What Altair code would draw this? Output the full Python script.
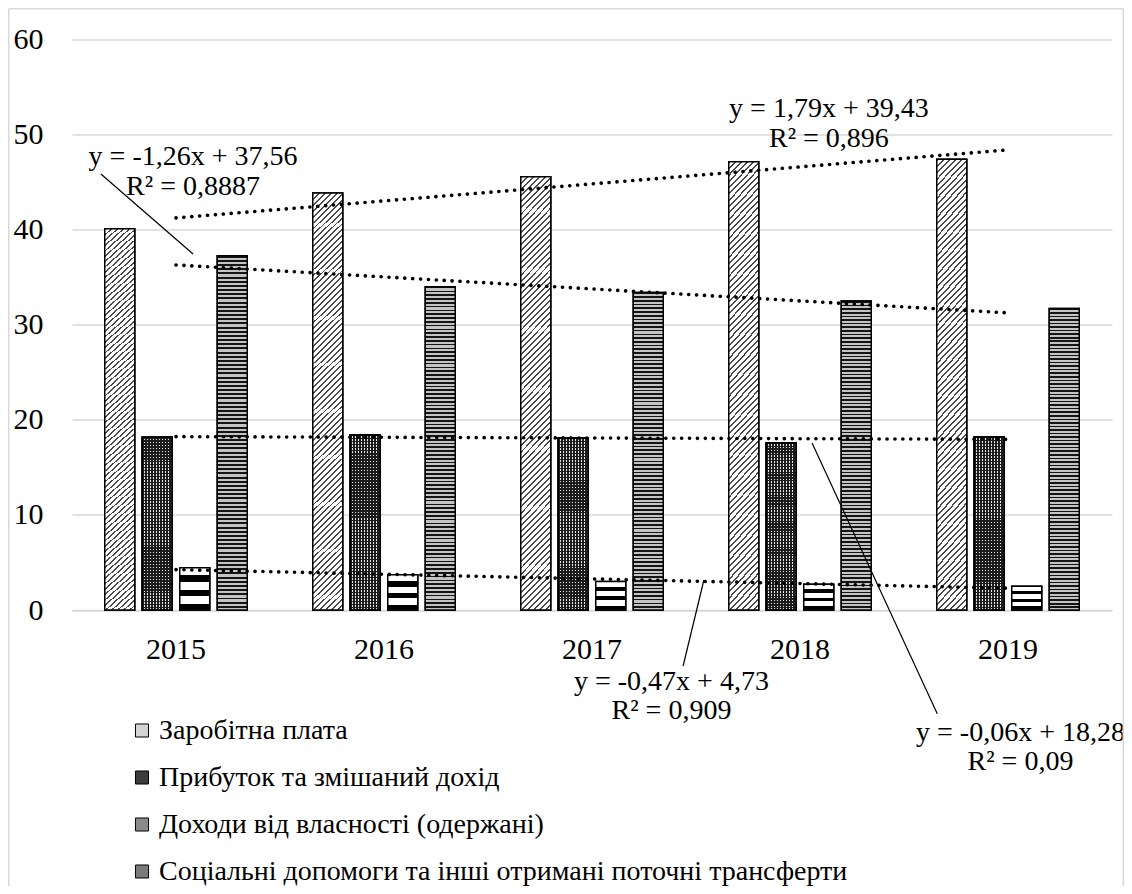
import altair as alt
import pandas as pd

# ---------------- data ----------------
years = ["2015", "2016", "2017", "2018", "2019"]
series_names = [
    "Заробітна плата",
    "Прибуток та змішаний дохід",
    "Доходи від власності (одержані)",
    "Соціальні допомоги та інші отримані поточні трансферти",
]
wage = [40.1, 43.86, 45.57, 47.15, 47.4]
profit = [18.16, 18.4, 18.09, 17.6, 18.2]
property_inc = [4.45, 3.7, 3.0, 2.7, 2.5]
social = [37.25, 34.0, 33.4, 32.5, 31.7]

# trend-line equation labels (text), anchored in data units
eq_text = ["y = -1,26x + 37,56", "R² = 0,8887",
           "y = 1,79x + 39,43", "R² = 0,896",
           "y = -0,47x + 4,73", "R² = 0,909",
           "y = -0,06x + 18,28", "R² = 0,09"]
eq_x = [1.082, 1.082, 4.139, 4.139, 3.382, 3.382, 5.06, 5.06]
eq_y = [47.64, 44.5, 52.69, 49.5, -7.57, -10.6, -12.9, -15.95]

# leader lines from labels to trend lines
lead_x = [0.639, 3.538, 4.058]
lead_x2 = [1.082, 3.438, 4.66]
lead_y = [45.86, 3.155, 17.56]
lead_y2 = [37.44, -5.89, -10.9]

rows = []
for s, vals in zip(series_names, [wage, profit, property_inc, social]):
    for i, (yr, v) in enumerate(zip(years, vals)):
        rows.append({"Рік": yr, "idx": i + 1, "Ряд": s, "Значення": v})
df = pd.DataFrame(rows)

ann_df = pd.DataFrame({"x": eq_x, "y": eq_y, "t": eq_text})
lead_df = pd.DataFrame({"x": lead_x, "x2": lead_x2, "y": lead_y, "y2": lead_y2})

FONT = "Liberation Serif"
PLOT_W, PLOT_H = 1040, 570.5

# ---------------- helpers for hatch-like fills ----------------
def stripes(n, c1, c2, frac1, x2, y2):
    stops = []
    for k in range(n):
        a = round(k / n, 5)
        b = round((k + frac1) / n, 5)
        c = round((k + 1) / n, 5)
        stops += [alt.GradientStop(color=c1, offset=a), alt.GradientStop(color=c1, offset=b),
                  alt.GradientStop(color=c2, offset=b), alt.GradientStop(color=c2, offset=c)]
    return alt.LinearGradient(gradient="linear", stops=stops, x1=0, y1=0, x2=x2, y2=y2)

W = 30.0
H0 = 426.0
dx2 = (W + H0) * W / (W * W + H0 * H0)
dy2 = (W + H0) * H0 / (W * W + H0 * H0)
wage_fill = stripes(int((W + H0) / 6), "#4a4a4a", "#ffffff", 0.32, dx2, dy2)
social_fill = stripes(85, "#151515", "#c4c4c4", 0.45, 0, 1)
prop_fill = stripes(3, "#ffffff", "#000000", 0.55, 0, 1)
profit_fill_a = stripes(10, "#1c1c1c", "#e6e6e6", 0.45, 1, 0)
profit_fill_b = stripes(58, "#1c1c1c", "rgba(0,0,0,0)", 0.45, 0, 1)

xband = alt.Scale(domain=years, paddingInner=0.315, paddingOuter=0.1575)
xoff = alt.Scale(domain=series_names, paddingInner=0.2, paddingOuter=0)
yscale = alt.Scale(domain=[0, 60], nice=False, zero=True)
xq = alt.Scale(domain=[0.5, 5.5], nice=False, zero=False)

base = alt.Chart(df)

bars = base.mark_bar(stroke="black", strokeWidth=1.5).encode(
    x=alt.X("Рік:N", scale=xband, title=None,
            axis=alt.Axis(labelFont=FONT, labelFontSize=30, labelColor="black", labelAngle=0,
                          labelPadding=24, ticks=False, domainColor="#d9d9d9", domainWidth=1.5,
                          grid=False)),
    xOffset=alt.XOffset("Ряд:N", scale=xoff, sort=series_names),
    y=alt.Y("Значення:Q", scale=yscale, title=None,
            axis=alt.Axis(values=[0, 10, 20, 30, 40, 50, 60], labelFont=FONT, labelFontSize=30,
                          labelColor="black", labelPadding=29, ticks=False, domain=False,
                          gridColor="#d9d9d9", gridWidth=1.3)),
    color=alt.Color("Ряд:N", sort=series_names,
                    scale=alt.Scale(domain=series_names,
                                    range=["#d4d4d4", "#3c3c3c", "#8a8a8a", "#7a7a7a"]),
                    legend=alt.Legend(title=None, orient="none", legendX=56, legendY=677,
                                      direction="vertical", symbolType="square", symbolSize=170,
                                      symbolStrokeColor="black", symbolStrokeWidth=1,
                                      labelFont=FONT, labelFontSize=28, labelColor="black",
                                      labelLimit=1000, rowPadding=19, labelOffset=3, padding=0)),
)

def overlay(name, fill, stroke=True):
    return base.transform_filter(alt.datum["Ряд"] == name).mark_bar(
        fill=fill, stroke="black" if stroke else "transparent", strokeWidth=1.5 if stroke else 0
    ).encode(
        x=alt.X("Рік:N", scale=xband, axis=None),
        xOffset=alt.XOffset("Ряд:N", scale=xoff, sort=series_names),
        y=alt.Y("Значення:Q", scale=yscale),
    )

ov_wage = overlay(series_names[0], wage_fill)
ov_profit_a = overlay(series_names[1], profit_fill_a)
ov_profit_b = overlay(series_names[1], profit_fill_b)
ov_profit_c = overlay(series_names[1], "transparent")
ov_prop = overlay(series_names[2], prop_fill)
ov_social = overlay(series_names[3], social_fill)

trend = base.transform_regression("idx", "Значення", groupby=["Ряд"]).mark_line(
    color="black", strokeWidth=3.6, strokeDash=[0.1, 7.8], strokeCap="round"
).encode(
    x=alt.X("idx:Q", scale=xq, axis=None),
    y=alt.Y("Значення:Q", scale=yscale),
    detail="Ряд:N",
)

labels = alt.Chart(ann_df).mark_text(font=FONT, fontSize=28, color="black", align="center",
                                     baseline="middle").encode(
    x=alt.X("x:Q", scale=xq, axis=None),
    y=alt.Y("y:Q", scale=yscale),
    text="t:N",
)

leaders = alt.Chart(lead_df).mark_rule(color="black", strokeWidth=1.2).encode(
    x=alt.X("x:Q", scale=xq, axis=None),
    x2="x2:Q",
    y=alt.Y("y:Q", scale=yscale),
    y2="y2:Q",
)

frame_df = pd.DataFrame({"k": [0]})
frame_l = alt.Chart(frame_df).mark_rule(color="#d9d9d9", strokeWidth=1.5).encode(
    x=alt.value(-63.25), y=alt.value(-30.75), y2=alt.value(850))
frame_t = alt.Chart(frame_df).mark_rule(color="#d9d9d9", strokeWidth=1.5).encode(
    x=alt.value(-63.25), x2=alt.value(1051.25), y=alt.value(-30.75))
frame_r = alt.Chart(frame_df).mark_rule(color="#d9d9d9", strokeWidth=1.5).encode(
    x=alt.value(1051.25), y=alt.value(-30.75), y2=alt.value(850))

chart = alt.layer(
    bars, ov_wage, ov_profit_a, ov_profit_b, ov_profit_c, ov_prop, ov_social,
    trend, leaders, labels, frame_l, frame_t, frame_r,
).resolve_scale(x="independent").properties(
    width=PLOT_W, height=PLOT_H,
    padding={"left": 64, "top": 31.5, "right": 12, "bottom": 276},
    autosize=alt.AutoSizeParams(type="none"),
    background="white",
).configure_view(stroke=None)

chart.save("out.html", embed_options={"renderer": "svg", "actions": False})
